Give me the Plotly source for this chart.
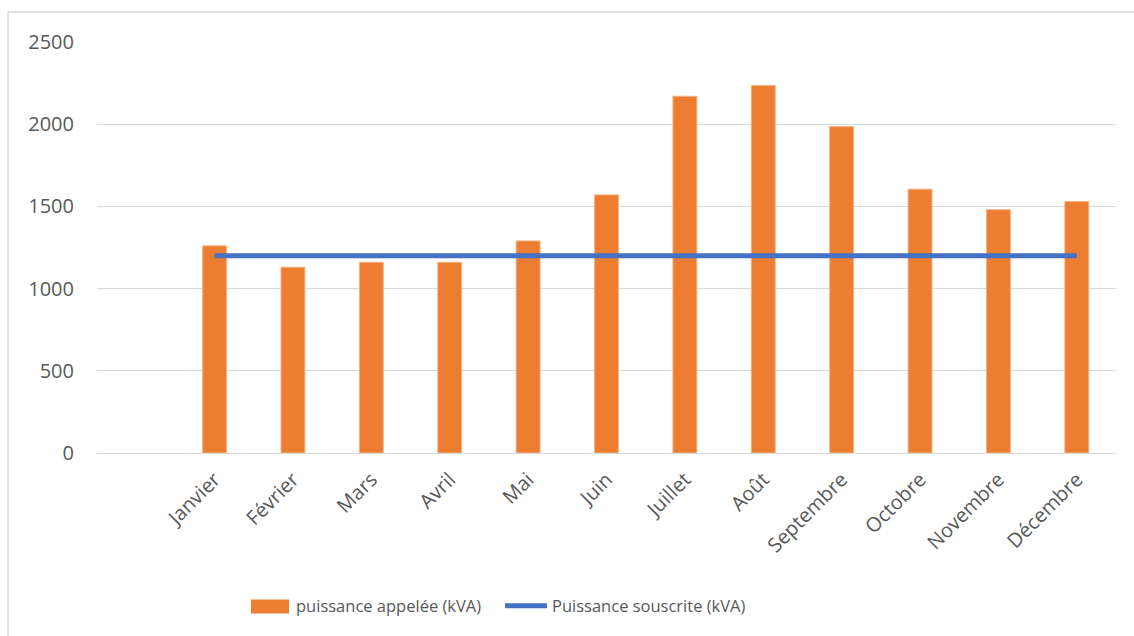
import plotly.graph_objects as go

# Monthly data (kVA)
mois = ["Janvier", "Février", "Mars", "Avril", "Mai", "Juin", "Juillet",
        "Août", "Septembre", "Octobre", "Novembre", "Décembre"]
puissance_appelee = [1260, 1130, 1160, 1160, 1290, 1570, 2170,
                     2235, 1985, 1605, 1480, 1530]
puissance_souscrite = [1200] * 12

nom_appelee = "puissance appelée (kVA)"
nom_souscrite = "Puissance souscrite (kVA)"

ORANGE = "#ED7D31"
BLEU = "#4472C4"
GRIS_TEXTE = "#595959"
GRIS_GRILLE = "#D9D9D9"
POLICE = "Open Sans, sans-serif"

fig = go.Figure()

fig.add_trace(go.Bar(
    x=mois, y=puissance_appelee, name=nom_appelee,
    width=0.305,
    marker=dict(color=ORANGE, line=dict(color="#F4B183", width=1)),
    showlegend=False,
))

fig.add_trace(go.Scatter(
    x=mois, y=puissance_souscrite, name=nom_souscrite,
    mode="lines", line=dict(color=BLEU, width=5),
    showlegend=False,
))

# Legend drawn below the category labels
shapes = [
    # outer chart frame
    dict(type="rect", xref="paper", yref="paper",
         x0=-0.0873, x1=1.06, y0=-0.47, y1=1.073,
         line=dict(color=GRIS_GRILLE, width=1.5), layer="below"),
    # bar swatch
    dict(type="rect", xref="paper", yref="paper",
         x0=0.1511, x1=0.1884, y0=-0.3903, y1=-0.3562,
         fillcolor=ORANGE, line=dict(width=0)),
    # line swatch
    dict(type="line", xref="paper", yref="paper",
         x0=0.4004, x1=0.4416, y0=-0.3716, y1=-0.3716,
         line=dict(color=BLEU, width=5)),
]

annotations = [
    dict(text=nom_appelee, xref="paper", yref="paper", x=0.1933, y=-0.372,
         xanchor="left", yanchor="middle", showarrow=False,
         font=dict(family=POLICE, size=16.5, color=GRIS_TEXTE)),
    dict(text=nom_souscrite, xref="paper", yref="paper", x=0.4446, y=-0.372,
         xanchor="left", yanchor="middle", showarrow=False,
         font=dict(family=POLICE, size=16.5, color=GRIS_TEXTE)),
]

fig.update_layout(
    width=1134, height=636,
    margin=dict(l=97, r=18, t=42, b=183),
    paper_bgcolor="white", plot_bgcolor="white",
    font=dict(family=POLICE, color=GRIS_TEXTE, size=20),
    shapes=shapes, annotations=annotations,
    showlegend=False,
)

fig.update_xaxes(
    type="category", range=[-1.5, 11.5],
    tickangle=-45, showgrid=False, showline=False, ticks="",
    ticklabelstandoff=10,
    tickfont=dict(family=POLICE, size=20, color=GRIS_TEXTE),
)

fig.update_yaxes(
    range=[0, 2500], dtick=500, tick0=0,
    showgrid=True, gridcolor=GRIS_GRILLE, gridwidth=1.3,
    zeroline=True, zerolinecolor=GRIS_GRILLE, zerolinewidth=1.3,
    showline=False, ticks="", ticklabelstandoff=22,
    tickfont=dict(family=POLICE, size=20, color=GRIS_TEXTE),
)

fig.write_html("out.html")
